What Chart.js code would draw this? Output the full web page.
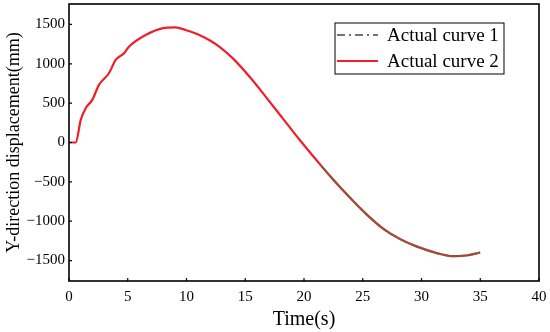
<!DOCTYPE html>
<html>
<head>
<meta charset="utf-8">
<script src="https://cdn.jsdelivr.net/npm/chart.js@4.4.1/dist/chart.umd.min.js"></script>
<style>
  html, body { margin: 0; padding: 0; background: #fff; }
  #wrap { width: 550px; height: 332px; }
</style>
</head>
<body>
<div id="wrap"><canvas id="dispChart"></canvas></div>
<script>
// data (time in s, displacement in mm)
const time2 = [0, 0.57, 1.0, 1.42, 1.98, 2.55, 3.4, 3.97, 4.68, 5.1, 6.52, 7.93, 9.07, 9.92, 10.9, 12.0, 12.84, 13.97, 15.39, 16.8, 18.22, 19.64, 21.49, 22.48, 23.9, 25.3, 26.7, 28.15, 29.57, 31.3, 32.7, 33.8, 35.0];
const disp2 = [0, 0, 288, 436, 542, 732, 880, 1049, 1134, 1218, 1366, 1451, 1462, 1430, 1379, 1297, 1213, 1066, 832, 571, 301, 31, -300, -470, -700, -910, -1090, -1225, -1320, -1405, -1445, -1436, -1398];
const time1 = [21.49, 22.48, 23.9, 25.3, 26.7, 28.15, 29.57, 31.3, 32.7, 33.8, 35.0];
const disp1 = [-300, -470, -700, -910, -1090, -1225, -1320, -1405, -1445, -1436, -1398];

const xTicks = [0, 5, 10, 15, 20, 25, 30, 35, 40];
const yTicks = [-1500, -1000, -500, 0, 500, 1000, 1500];

const serif = "'Liberation Serif', 'Times New Roman', serif";

// Rahmen, Ticks nach innen und Legende im Plot
const framePlugin = {
  id: 'frame',
  afterDraw(chart) {
    const ctx = chart.ctx;
    const a = chart.chartArea;
    const xs = chart.scales.x, ys = chart.scales.y;
    ctx.save();
    ctx.strokeStyle = '#000';
    ctx.lineWidth = 1.6;
    ctx.strokeRect(a.left, a.top, a.right - a.left, a.bottom - a.top);

    ctx.lineWidth = 1.2;
    ctx.beginPath();
    xTicks.forEach(v => {
      const px = xs.getPixelForValue(v);
      ctx.moveTo(px, a.bottom);
      ctx.lineTo(px, a.bottom - 3);
    });
    yTicks.forEach(v => {
      const py = ys.getPixelForValue(v);
      ctx.moveTo(a.left, py);
      ctx.lineTo(a.left + 3, py);
    });
    ctx.stroke();

    // legend box
    const bx = 335, by = 23, bw = 169, bh = 51;
    ctx.lineWidth = 1;
    ctx.strokeRect(bx, by, bw, bh);
    const rows = [35, 61];
    chart.data.datasets.forEach((ds, i) => {
      const y = rows[i];
      ctx.save();
      ctx.strokeStyle = ds.legendColor;
      ctx.lineWidth = 2.2;
      ctx.setLineDash(ds.legendDash || []);
      ctx.beginPath();
      ctx.moveTo(bx + 2, y);
      ctx.lineTo(bx + 43, y);
      ctx.stroke();
      ctx.restore();
      ctx.fillStyle = '#000';
      ctx.font = '19px ' + serif;
      ctx.textBaseline = 'middle';
      ctx.fillText(ds.label, bx + 52, y + 1);
    });
    ctx.restore();
  }
};

const ctx = document.getElementById('dispChart').getContext('2d');
const dispChart = new Chart(ctx, {
  type: 'line',
  data: {
    datasets: [
      {
        label: 'Actual curve 1',
        data: time1.map((t, i) => ({ x: t, y: disp1[i] })),
        borderColor: 'rgba(100, 110, 60, 0.75)',
        legendColor: 'rgb(115, 115, 115)',
        legendDash: [8, 4, 2, 4],
        borderDash: [8, 1, 2, 1],
        borderWidth: 2.2,
        pointRadius: 0,
        cubicInterpolationMode: 'monotone',
        fill: false
      },
      {
        label: 'Actual curve 2',
        data: time2.map((t, i) => ({ x: t, y: disp2[i] })),
        borderColor: 'rgb(240, 30, 40)',
        legendColor: 'rgb(240, 30, 40)',
        borderWidth: 2.2,
        pointRadius: 0,
        cubicInterpolationMode: 'monotone',
        fill: false
      }
    ]
  },
  options: {
    responsive: true,
    maintainAspectRatio: false,
    animation: false,
    layout: { padding: { left: 0, top: 4, right: 11, bottom: 0 } },
    plugins: {
      legend: { display: false },
      tooltip: { enabled: false }
    },
    scales: {
      x: {
        type: 'linear',
        min: 0,
        max: 40,
        afterBuildTicks: axis => { axis.ticks = xTicks.map(v => ({ value: v })); },
        afterFit: axis => { axis.height = 51; axis.paddingLeft = 0; axis.paddingRight = 0; },
        grid: { display: false, drawTicks: false },
        border: { display: false },
        ticks: { color: '#000', padding: 7, font: { family: serif, size: 15 }, maxRotation: 0 },
        title: {
          display: true,
          text: 'Time(s)',
          color: '#000',
          font: { family: serif, size: 20 },
          padding: { top: 0, bottom: 0 }
        }
      },
      y: {
        min: -1760,
        max: 1760,
        afterBuildTicks: axis => { axis.ticks = yTicks.map(v => ({ value: v })); },
        afterFit: axis => { axis.width = 69; axis.paddingTop = 0; axis.paddingBottom = 0; },
        grid: { display: false, drawTicks: false },
        border: { display: false },
        ticks: {
          color: '#000',
          padding: 4,
          font: { family: serif, size: 15 },
          callback: v => (v < 0 ? '\u2212' + Math.abs(v) : String(v))
        },
        title: {
          display: true,
          text: 'Y-direction displacement(mm)',
          color: '#000',
          font: { family: serif, size: 18 },
          padding: { top: 3, bottom: 0 }
        }
      }
    }
  },
  plugins: [framePlugin]
});
</script>
</body>
</html>
